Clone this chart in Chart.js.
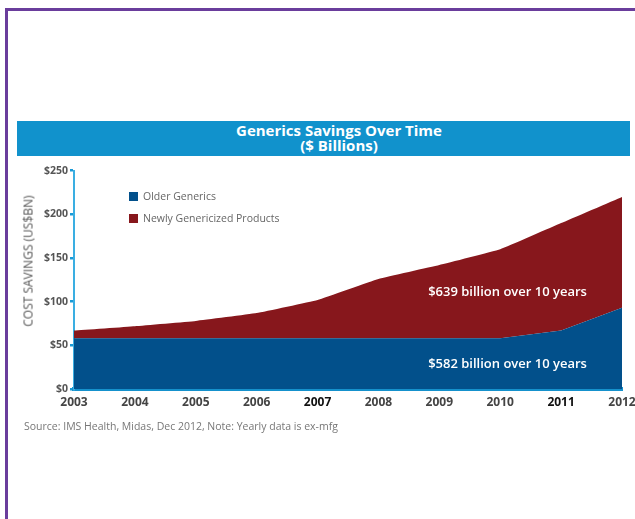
<!DOCTYPE html>
<html>
<head>
<meta charset="utf-8">
<script src="https://cdn.jsdelivr.net/npm/chart.js@4/dist/chart.umd.min.js"></script>
<style>
  html, body { margin: 0; padding: 0; width: 635px; height: 519px; overflow: hidden; background: #fff; font-family: "Open Sans", "Lato", sans-serif; }
  #frameTop { position: absolute; left: 5px; top: 8px; width: 640px; height: 3px; background: #6a3d9c; }
  #frameLeft { position: absolute; left: 5px; top: 8px; width: 3px; height: 520px; background: #6a3d9c; }
  #titleBar { position: absolute; left: 17px; top: 121px; width: 613px; height: 35px; background: #1192cc; color: #fff; text-align: center; font-family: "Open Sans", sans-serif; font-weight: 700; font-size: 15px; line-height: 15px; padding-top: 2px; padding-left: 31px; box-sizing: border-box; }
  #yTitle { position: absolute; left: 28px; top: 261px; transform: translate(-50%, -50%) rotate(-90deg); white-space: nowrap; font-size: 12px; color: #555; font-family: "Open Sans", sans-serif; }
  .leg { position: absolute; left: 129px; font-size: 10.5px; color: #666; font-family: "Open Sans", sans-serif; white-space: nowrap; }
  .leg span { display: inline-block; width: 9px; height: 9px; vertical-align: -1px; margin-right: 5px; }
  #source { position: absolute; left: 24px; top: 419px; font-size: 10.5px; color: #777; font-family: "Open Sans", sans-serif; white-space: nowrap; }
  #wrap { position: absolute; left: 0; top: 160px; width: 660px; height: 260px; }
</style>
</head>
<body>
<div id="frameTop"></div>
<div id="frameLeft"></div>
<div id="titleBar">Generics Savings Over Time<br>($ Billions)</div>
<div id="wrap"><canvas id="c"></canvas></div>
<div id="yTitle">COST SAVINGS (US$BN)</div>
<div class="leg" style="top:189px"><span style="background:#02508b"></span>Older Generics</div>
<div class="leg" style="top:211px"><span style="background:#87171c"></span>Newly Genericized Products</div>
<div id="source">Source: IMS Health, Midas, Dec 2012, Note: Yearly data is ex-mfg</div>
<script>
const years = ["2003","2004","2005","2006","2007","2008","2009","2010","2011","2012"];
const olderGenerics = [58, 58, 58, 58, 58, 58, 58, 58, 67, 93];
const newlyGenericized = [9, 14, 20, 29, 44, 68, 84, 102, 123, 127];
const yTickValues = [0, 50, 100, 150, 200, 250];
const seriesNames = ["Older Generics", "Newly Genericized Products"];
const annotationTexts = ["$639 billion over 10 years", "$582 billion over 10 years"];

const annotPlugin = {
  id: 'annot',
  afterDatasetsDraw(chart) {
    const {ctx, scales} = chart;
    const xs = scales.x, ys = scales.y;
    const xPix = xs.getPixelForValue(7) + (xs.getPixelForValue(8) - xs.getPixelForValue(7)) * 0.12;
    ctx.save();
    ctx.fillStyle = '#ffffff';
    ctx.font = '600 13px "Open Sans", sans-serif';
    ctx.textAlign = 'center';
    ctx.textBaseline = 'middle';
    ctx.fillText(annotationTexts[0], xPix, ys.getPixelForValue(111));
    ctx.fillText(annotationTexts[1], xPix, ys.getPixelForValue(28));
    ctx.restore();
  }
};

new Chart(document.getElementById('c'), {
  type: 'line',
  data: {
    labels: years,
    datasets: [
      { label: seriesNames[0], data: olderGenerics, backgroundColor: '#02508b', borderColor: '#02508b', borderWidth: 0, pointRadius: 0, fill: 'origin', tension: 0 },
      { label: seriesNames[1], data: newlyGenericized, backgroundColor: '#87171c', borderColor: '#87171c', borderWidth: 0, pointRadius: 0, fill: '-1', tension: 0.1 }
    ]
  },
  options: {
    responsive: true,
    maintainAspectRatio: false,
    animation: false,
    layout: { padding: { left: 0, right: 38, top: 10.7, bottom: 0 } },
    plugins: { legend: { display: false }, tooltip: { enabled: false } },
    scales: {
      x: {
        offset: false,
        grid: { display: false, drawTicks: false },
        border: { display: true, color: '#1591cc', width: 4 },
        ticks: {
          padding: 6,
          autoSkip: false,
          maxRotation: 0,
          font: { family: '"Open Sans", sans-serif', size: 12, weight: '700' },
          color: (c) => (c.index === 4 || c.index === 8) ? '#111' : '#444'
        },
        afterFit(s) { s.height = 31; }
      },
      y: {
        stacked: true,
        min: 0, max: 250,
        afterBuildTicks(s) { s.ticks = yTickValues.map(v => ({ value: v })); },
        grid: { display: true, drawOnChartArea: false, drawTicks: true, tickLength: 4, color: '#1a9ad6', lineWidth: 2.5 },
        border: { display: true, color: '#3aaee2', width: 2 },
        ticks: {
          padding: 2,
          font: { family: '"Open Sans", sans-serif', size: 10.5, weight: '700' },
          color: '#555',
          callback: (v) => '$' + v
        },
        afterFit(s) { s.width = 74; }
      }
    }
  },
  plugins: [annotPlugin]
});
</script>
</body>
</html>
